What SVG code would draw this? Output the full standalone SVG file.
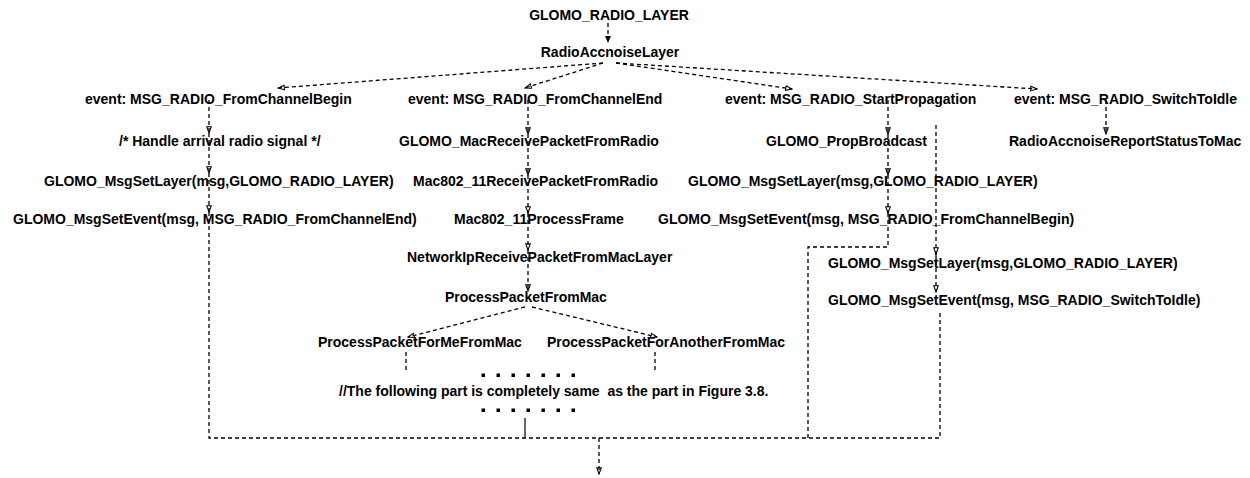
<svg xmlns="http://www.w3.org/2000/svg" width="1250" height="478" viewBox="0 0 1250 478">
<style>
text{font-family:"Liberation Sans",Arial,sans-serif;font-weight:bold;font-size:14px;fill:#000}
.d{fill:none;stroke:#000;stroke-width:1.3;stroke-dasharray:4,3}
.s{fill:none;stroke:#000;stroke-width:1.2}
.a{marker-end:url(#ar)}
</style>
<defs>
<marker id="ar" markerUnits="userSpaceOnUse" markerWidth="8" markerHeight="8" refX="6" refY="2.5" orient="auto" viewBox="0 0 7 5">
<polygon points="0.5,0.5 6,2.5 0.5,4.5" fill="none" stroke="#000" stroke-width="0.9" stroke-linejoin="miter"/>
</marker>
<marker id="af" markerUnits="userSpaceOnUse" markerWidth="8" markerHeight="8" refX="7" refY="3" orient="auto" viewBox="0 0 8 6">
<polygon points="0,0 7,3 0,6" fill="#000"/>
</marker>
</defs>
<g id="connectors">
<path class="d" d="M608,23 V43" marker-end="url(#af)"/>
<path class="d a" d="M603,63 L278,88"/>
<path class="d a" d="M603,63 L525,88"/>
<path class="d a" d="M616,63 L792,89"/>
<path class="d a" d="M616,63 L1037,89"/>
<path class="d a" d="M209,100 V133"/>
<path class="d a" d="M209,133 V173"/>
<path class="d a" d="M209,173 V212"/>
<path class="d" d="M209,212 V438 H940 V310"/>
<path class="d a" d="M528,100 V134"/>
<path class="d a" d="M528,134 V175"/>
<path class="d a" d="M528,175 V213"/>
<path class="d a" d="M528,213 V250"/>
<path class="d a" d="M528,250 V291"/>
<path class="d a" d="M525,307 L408,337"/>
<path class="d a" d="M532,307 L657,337"/>
<path class="d" d="M406,352 V373"/>
<path class="d" d="M655,352 V373"/>
<path class="s" d="M525,418 V438"/>
<path class="d a" d="M599,438 V474"/>
<path class="d a" d="M888,100 V134"/>
<path class="d a" d="M888,134 V175"/>
<path class="d a" d="M888,175 V213"/>
<path class="d" d="M888,213 V247 H808 V438"/>
<path class="d a" d="M936,125 V254"/>
<path class="d a" d="M936,254 V292"/>
<path class="d a" d="M1106,100 V134"/>
</g>
<g id="n-title"><text x="609" y="20" text-anchor="middle">GLOMO_RADIO_LAYER</text></g>
<g id="n-ral"><text x="610" y="57" text-anchor="middle">RadioAccnoiseLayer</text></g>
<g id="n-ev1"><text x="85" y="104">event: MSG_RADIO_FromChannelBegin</text></g>
<g id="n-ev2"><text x="408" y="104">event: MSG_RADIO_FromChannelEnd</text></g>
<g id="n-ev3"><text x="725" y="104">event: MSG_RADIO_StartPropagation</text></g>
<g id="n-ev4"><text x="1014" y="104">event: MSG_RADIO_SwitchToIdle</text></g>
<g id="n-handle"><text x="119" y="146">/* Handle arrival radio signal */</text></g>
<g id="n-macrecv"><text x="399" y="146">GLOMO_MacReceivePacketFromRadio</text></g>
<g id="n-prop"><text x="766" y="146">GLOMO_PropBroadcast</text></g>
<g id="n-report"><text x="1009" y="146">RadioAccnoiseReportStatusToMac</text></g>
<g id="n-setlayer1"><text x="44" y="186">GLOMO_MsgSetLayer(msg,GLOMO_RADIO_LAYER)</text></g>
<g id="n-mac80211recv"><text x="413" y="186">Mac802_11ReceivePacketFromRadio</text></g>
<g id="n-setlayer2"><text x="688" y="186">GLOMO_MsgSetLayer(msg,GLOMO_RADIO_LAYER)</text></g>
<g id="n-setevent1"><text x="13" y="224">GLOMO_MsgSetEvent(msg, MSG_RADIO_FromChannelEnd)</text></g>
<g id="n-procframe"><text x="454" y="224">Mac802_11ProcessFrame</text></g>
<g id="n-setevent2"><text x="658" y="224">GLOMO_MsgSetEvent(msg, MSG_RADIO_FromChannelBegin)</text></g>
<g id="n-netip"><text x="407" y="262">NetworkIpReceivePacketFromMacLayer</text></g>
<g id="n-setlayer3"><text x="828" y="268">GLOMO_MsgSetLayer(msg,GLOMO_RADIO_LAYER)</text></g>
<g id="n-ppfm"><text x="445" y="302">ProcessPacketFromMac</text></g>
<g id="n-setevent3"><text x="828" y="305">GLOMO_MsgSetEvent(msg, MSG_RADIO_SwitchToIdle)</text></g>
<g id="n-forme"><text x="318" y="347">ProcessPacketForMeFromMac</text></g>
<g id="n-foranother"><text x="547" y="347">ProcessPacketForAnotherFromMac</text></g>
<g id="n-note">
<g fill="#000">
<rect x="481.5" y="373.5" width="3.5" height="3.5"/><rect x="496.5" y="373.5" width="3.5" height="3.5"/><rect x="511.5" y="373.5" width="3.5" height="3.5"/><rect x="526.5" y="373.5" width="3.5" height="3.5"/><rect x="541.5" y="373.5" width="3.5" height="3.5"/><rect x="556.5" y="373.5" width="3.5" height="3.5"/><rect x="571.5" y="373.5" width="3.5" height="3.5"/>
<rect x="481.5" y="408.5" width="3.5" height="3.5"/><rect x="496.5" y="408.5" width="3.5" height="3.5"/><rect x="511.5" y="408.5" width="3.5" height="3.5"/><rect x="526.5" y="408.5" width="3.5" height="3.5"/><rect x="541.5" y="408.5" width="3.5" height="3.5"/><rect x="556.5" y="408.5" width="3.5" height="3.5"/><rect x="571.5" y="408.5" width="3.5" height="3.5"/>
</g>
<text x="339" y="396" xml:space="preserve">//The following part is completely same  as the part in Figure 3.8.</text>
</g>
</svg>
